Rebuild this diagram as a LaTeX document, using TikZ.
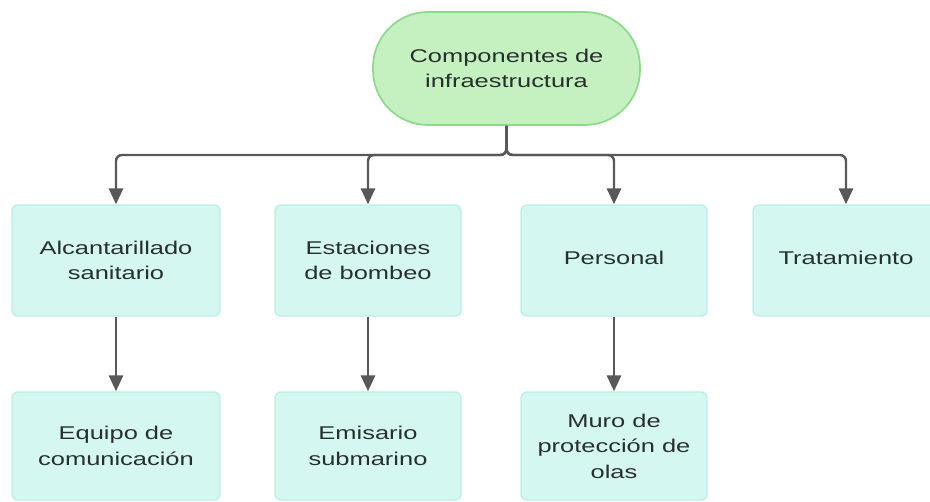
\documentclass[tikz,border=0pt]{standalone}
\usepackage{fontspec}
\setmainfont[FakeStretch=1.38]{Liberation Sans}
\usepackage{xcolor}
\usetikzlibrary{arrows.meta}

\definecolor{pillfill}{HTML}{C5F1C1}
\definecolor{pilledge}{HTML}{8FD98D}
\definecolor{boxfill}{HTML}{D5F7F1}
\definecolor{boxedge}{HTML}{BCEEE5}
\definecolor{linegray}{HTML}{585858}
\definecolor{txt}{HTML}{28302E}

\begin{document}
\begin{tikzpicture}[x=0.02cm, y=-0.02cm,
  rootbox/.style={draw=pilledge, fill=pillfill, line width=1pt, rounded corners=1.1cm,
    minimum width=5.34cm, minimum height=2.26cm, align=center, text=txt,
    font=\fontsize{10.5pt}{14.5pt}\selectfont},
  compbox/.style={draw=boxedge, fill=boxfill, line width=0.8pt, rounded corners=0.12cm,
    minimum width=3.72cm, minimum height=2.22cm, inner sep=0pt, align=center, text=txt,
    font=\fontsize{10.5pt}{14.5pt}\selectfont},
  conn/.style={draw=linegray, line width=1.4pt, rounded corners=0.12cm,
    -{Triangle[width=8pt,length=9pt]}}]
  \clip (0,0) rectangle (930,502);

  % ---- root ----
  \node[rootbox] (root) at (506.5,68.5) {Componentes de\\infraestructura};

  % ---- first row ----
  \node[compbox, minimum width=4.16cm] (alc) at (116,260.5) {Alcantarillado\\sanitario};
  \node[compbox] (est) at (368,260.5) {Estaciones\\de bombeo};
  \node[compbox, text depth=0.1cm] (per) at (614,260.5) {Personal};
  \node[compbox, text depth=0.1cm] (tra) at (846,260.5) {Tratamiento};

  % ---- second row ----
  \node[compbox, minimum width=4.16cm, minimum height=2.16cm] (equ) at (116,446) {Equipo de\\comunicación};
  \node[compbox, minimum height=2.16cm] (emi) at (368,446) {Emisario\\submarino};
  \node[compbox, minimum height=2.16cm] (mur) at (614,446) {Muro de\\protección de\\olas};

  % ---- connectors ----
  \coordinate (hub) at (506.5,155);
  \foreach \n in {alc, est, per, tra} {
    \draw[conn] (root.south) -- (hub) -| (\n.north);
  }
  \draw[conn] (alc) -- (equ);
  \draw[conn] (est) -- (emi);
  \draw[conn] (per) -- (mur);
\end{tikzpicture}
\end{document}
